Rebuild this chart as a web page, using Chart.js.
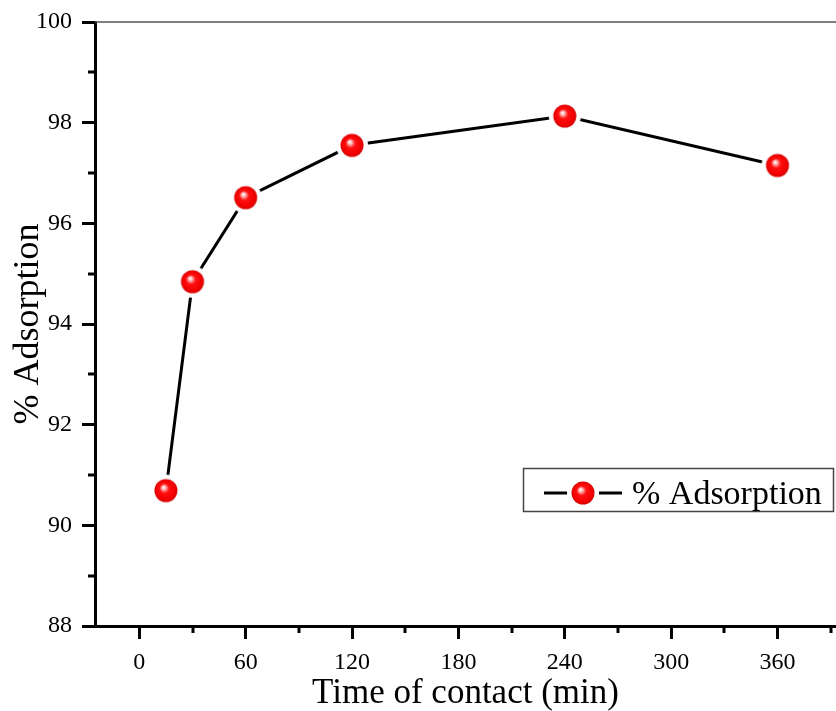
<!DOCTYPE html>
<html>
<head>
<meta charset="utf-8">
<script src="https://cdn.jsdelivr.net/npm/chart.js@4/dist/chart.umd.min.js"></script>
<style>
  html, body { margin: 0; padding: 0; background: #fff; overflow: hidden; }
  canvas { display: block; }
</style>
</head>
<body>
<canvas id="grafico" width="836" height="711"></canvas>
<script>
// Dados
const tempos = [15, 30, 60, 120, 240, 360];
const adsorcao = [90.69, 94.84, 96.51, 97.55, 98.13, 97.15];
const ticksX = [0, 60, 120, 180, 240, 300, 360];
const ticksXMenores = [30, 90, 150, 210, 270, 330, 390];
const ticksY = [88, 90, 92, 94, 96, 98, 100];
const ticksYMenores = [89, 91, 93, 95, 97, 99];
const rotuloSerie = '% Adsorption';
const tituloX = 'Time of contact (min)';
const tituloY = '% Adsorption';

const FONTE = "'Liberation Serif', 'Times New Roman', serif";

// Marcador: esfera vermelha com anel branco (corta a linha perto do ponto)
function criarMarcador() {
    const c = document.createElement('canvas');
    c.width = 34;
    c.height = 34;
    const g = c.getContext('2d');
    g.fillStyle = '#fff';
    g.beginPath();
    g.arc(17, 17, 16, 0, Math.PI * 2);
    g.fill();
    const grad = g.createRadialGradient(14.5, 13.5, 0.3, 17, 17, 11.5);
    grad.addColorStop(0, '#ffffff');
    grad.addColorStop(0.12, '#ffc8c8');
    grad.addColorStop(0.4, '#ff1010');
    grad.addColorStop(0.85, '#f00000');
    grad.addColorStop(1, '#d00000');
    g.fillStyle = grad;
    g.beginPath();
    g.arc(17, 17, 11.5, 0, Math.PI * 2);
    g.fill();
    return c;
}
const marcador = criarMarcador();

// O eixo x vai até a borda direita da figura (o original está cortado ali)
const eixoAteBorda = {
    id: 'eixoAteBorda',
    afterLayout(chart) {
        const area = chart.chartArea;
        const sx = chart.scales.x;
        area.right = chart.width;
        area.width = area.right - area.left;
        sx.right = chart.width;
        sx.width = sx.right - sx.left;
        sx.configure();
    }
};

// Ticks menores, moldura superior e legenda
const extras = {
    id: 'extras',
    afterDraw(chart) {
        const ctx = chart.ctx;
        const area = chart.chartArea;
        const sx = chart.scales.x;
        const sy = chart.scales.y;
        ctx.save();

        // linha superior fina
        ctx.strokeStyle = '#555';
        ctx.lineWidth = 1.5;
        ctx.beginPath();
        ctx.moveTo(area.left, area.top);
        ctx.lineTo(area.right, area.top);
        ctx.stroke();

        // ticks menores
        ctx.strokeStyle = '#000';
        ctx.lineWidth = 3;
        ticksXMenores.forEach(v => {
            const px = Math.round(sx.getPixelForValue(v));
            ctx.beginPath();
            ctx.moveTo(px, area.bottom);
            ctx.lineTo(px, area.bottom + 7);
            ctx.stroke();
        });
        ticksYMenores.forEach(v => {
            const py = Math.round(sy.getPixelForValue(v));
            ctx.beginPath();
            ctx.moveTo(area.left - 7, py);
            ctx.lineTo(area.left, py);
            ctx.stroke();
        });

        // legenda
        ctx.strokeStyle = '#444';
        ctx.lineWidth = 1.5;
        ctx.strokeRect(523.5, 468.5, 310, 43);
        ctx.strokeStyle = '#000';
        ctx.lineWidth = 3;
        ctx.beginPath();
        ctx.moveTo(544, 493);
        ctx.lineTo(622, 493);
        ctx.stroke();
        ctx.drawImage(marcador, 583 - 17, 493 - 17);
        ctx.fillStyle = '#000';
        ctx.font = '34px ' + FONTE;
        ctx.textBaseline = 'alphabetic';
        ctx.fillText(rotuloSerie, 632, 504);

        ctx.restore();
    }
};

new Chart(document.getElementById('grafico'), {
    type: 'scatter',
    data: {
        datasets: [{
            label: rotuloSerie,
            data: tempos.map((t, i) => ({ x: t, y: adsorcao[i] })),
            showLine: true,
            borderColor: '#000',
            borderWidth: 3,
            tension: 0,
            pointStyle: marcador,
            pointRadius: 11,
            pointHoverRadius: 11,
            clip: false
        }]
    },
    options: {
        responsive: false,
        animation: false,
        layout: { padding: { top: 22, left: 0, right: 0, bottom: 0 } },
        plugins: {
            legend: { display: false },
            tooltip: { enabled: false }
        },
        scales: {
            x: {
                type: 'linear',
                min: -25,
                max: 393,
                afterBuildTicks: s => { s.ticks = ticksX.map(v => ({ value: v })); },
                afterFit: s => {
                    s.height = 85;
                    s.paddingLeft = 0;
                    s.paddingRight = 0;
                },
                ticks: {
                    color: '#000',
                    font: { family: FONTE, size: 24 },
                    padding: 9,
                    maxRotation: 0,
                    autoSkip: false
                },
                grid: {
                    drawOnChartArea: false,
                    tickLength: 13,
                    tickWidth: 3,
                    tickColor: '#000'
                },
                border: { color: '#000', width: 3 },
                title: {
                    display: true,
                    text: tituloX,
                    color: '#000',
                    font: { family: FONTE, size: 35, lineHeight: 1 },
                    padding: { top: 0, bottom: 0 }
                }
            },
            y: {
                min: 88,
                max: 100,
                afterBuildTicks: s => { s.ticks = ticksY.map(v => ({ value: v })); },
                afterFit: s => {
                    s.width = 95;
                    s.paddingTop = 0;
                    s.paddingBottom = 0;
                },
                ticks: {
                    color: '#000',
                    font: { family: FONTE, size: 24 },
                    padding: 10
                },
                grid: {
                    drawOnChartArea: false,
                    tickLength: 13,
                    tickWidth: 3,
                    tickColor: '#000'
                },
                border: { color: '#000', width: 3 },
                title: {
                    display: true,
                    text: tituloY,
                    color: '#000',
                    font: { family: FONTE, size: 36 },
                    padding: { top: 7, bottom: 0 }
                }
            }
        }
    },
    plugins: [eixoAteBorda, extras]
});
</script>
</body>
</html>
